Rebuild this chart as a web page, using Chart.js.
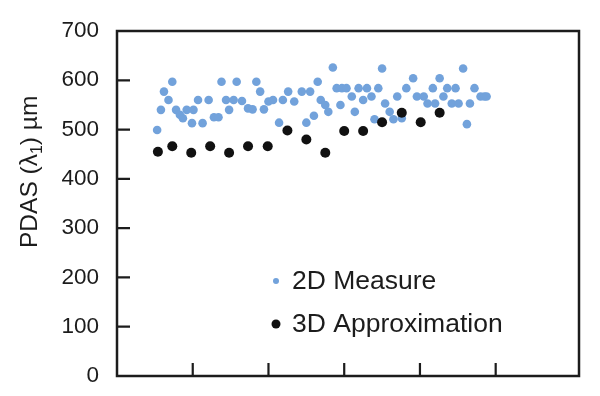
<!DOCTYPE html>
<html>
<head>
<meta charset="utf-8">
<script src="https://cdn.jsdelivr.net/npm/chart.js@4.4.1/dist/chart.umd.min.js"></script>
<style>
html,body{margin:0;padding:0;background:#fff;}
#wrap{width:600px;height:396px;position:relative;}
</style>
</head>
<body>
<div id="wrap"><canvas id="c" width="600" height="396"></canvas></div>
<script>
// ---- data ----
const seriesNames = ['2D Measure', '3D Approximation'];
const yTickValues = [0, 100, 200, 300, 400, 500, 600, 700];
const xTickValues = [1, 2, 3, 4, 5];
const yTitle = ['PDAS (\u03BB', '1', ') \u00B5m'];

const measure2dX = [0.53,0.58,0.62,0.68,0.73,0.78,0.83,0.87,0.92,0.99,1.01,1.07,1.13,1.21,1.28,1.34,1.38,1.44,1.48,1.54,1.58,
  1.65,1.73,1.79,1.84,1.89,1.94,2.00,2.06,2.14,2.19,2.26,2.34,2.44,2.50,2.55,2.60,2.65,2.69,2.75,2.79,2.85,2.90,2.95,
  2.97,3.03,3.10,3.14,3.19,3.25,3.30,3.36,3.40,3.45,3.50,3.54,3.60,3.65,3.70,3.76,3.82,3.91,3.96,
  4.05,4.10,4.17,4.20,4.26,4.31,4.36,4.42,4.47,4.51,4.57,4.62,4.66,4.72,4.80,4.85,4.88];
const measure2dY = [499,540,577,560,597,540,530,523,540,513,540,560,513,560,525,525,597,560,540,560,597,
  558,543,541,597,577,541,557,560,514,560,577,557,577,514,577,528,597,560,550,536,626,584,550,
  584,584,567,536,584,560,584,567,521,584,624,553,536,521,567,523,584,604,567,
  567,553,584,553,604,567,584,553,584,553,624,511,553,584,567,567,567];

const approx3dX = [0.54,0.73,0.98,1.23,1.48,1.73,1.99,2.25,2.50,2.75,3.00,3.25,3.50,3.76,4.01,4.26];
const approx3dY = [455,466,453,466,453,466,466,498,480,453,497,497,515,534,515,534];

const blue = 'rgb(114,162,219)';
const black = '#111111';
const ink = '#1c1c1c';
const fam = '"Liberation Sans", Arial, sans-serif';

const toPts = (xs, ys) => xs.map((x,i)=>({x:x, y:ys[i]}));

const framePlugin = {
  id:'frame',
  afterDraw(chart){
    const ctx = chart.ctx, a = chart.chartArea;
    const xs = chart.scales.x, ys = chart.scales.y;
    ctx.save();
    ctx.strokeStyle = ink; ctx.lineWidth = 2.5;
    ctx.strokeRect(a.left, a.top, a.right-a.left, a.bottom-a.top);
    ctx.lineWidth = 2.2;
    ctx.beginPath();
    yTickValues.forEach(v=>{
      const py = ys.getPixelForValue(v);
      ctx.moveTo(a.left, py); ctx.lineTo(a.left+13, py);
    });
    xTickValues.forEach(v=>{
      const px = xs.getPixelForValue(v);
      ctx.moveTo(px, a.bottom); ctx.lineTo(px, a.bottom-13);
    });
    ctx.stroke();

    // legend
    const ds = chart.data.datasets;
    const rows = [{y:281, r:3, i:1},{y:324, r:4.5, i:0}];
    ctx.font = '26.5px ' + fam;
    ctx.textBaseline = 'middle';
    rows.forEach(row=>{
      const d = ds[row.i];
      ctx.fillStyle = d.backgroundColor;
      ctx.beginPath(); ctx.arc(276, row.y, row.r, 0, Math.PI*2); ctx.fill();
      ctx.fillStyle = ink;
      ctx.fillText(d.label, 292, row.y+1);
    });

    // y title (rotated)
    ctx.save();
    ctx.translate(37, 248);
    ctx.rotate(-Math.PI/2);
    ctx.textBaseline = 'alphabetic';
    ctx.fillStyle = ink;
    ctx.font = '24.5px ' + fam;
    let x = 0;
    ctx.fillText(yTitle[0], x, 0); x += ctx.measureText(yTitle[0]).width;
    ctx.font = '16px ' + fam;
    ctx.fillText(yTitle[1], x, 5); x += ctx.measureText(yTitle[1]).width;
    ctx.font = '24.5px ' + fam;
    ctx.fillText(yTitle[2], x, 0);
    ctx.restore();
    ctx.restore();
  }
};

new Chart(document.getElementById('c'), {
  type:'scatter',
  data:{
    datasets:[
      {label:seriesNames[1], data:toPts(approx3dX, approx3dY), backgroundColor:black, borderWidth:0, pointRadius:5, order:0},
      {label:seriesNames[0], data:toPts(measure2dX, measure2dY), backgroundColor:blue, borderWidth:0, pointRadius:4.3, order:1}
    ]
  },
  options:{
    responsive:false,
    animation:false,
    devicePixelRatio:1,
    layout:{padding:{top:31, right:21, left:0, bottom:0}},
    plugins:{legend:{display:false}, tooltip:{enabled:false}},
    scales:{
      x:{
        type:'linear', min:0, max:6.1,
        grid:{display:false, drawTicks:false}, border:{display:false},
        ticks:{display:false, stepSize:1},
        afterFit(s){ s.height = 20; s.paddingLeft = 0; s.paddingRight = 0; }
      },
      y:{
        min:0, max:700,
        grid:{display:false, drawTicks:false}, border:{display:false},
        ticks:{stepSize:100, padding:18, color:ink, font:{family:fam, size:22.5},
          callback:(v)=> yTickValues.includes(v) ? String(v) : ''},
        afterFit(s){ s.width = 117; s.paddingTop = 0; s.paddingBottom = 0; }
      }
    }
  },
  plugins:[framePlugin]
});
</script>
</body>
</html>
